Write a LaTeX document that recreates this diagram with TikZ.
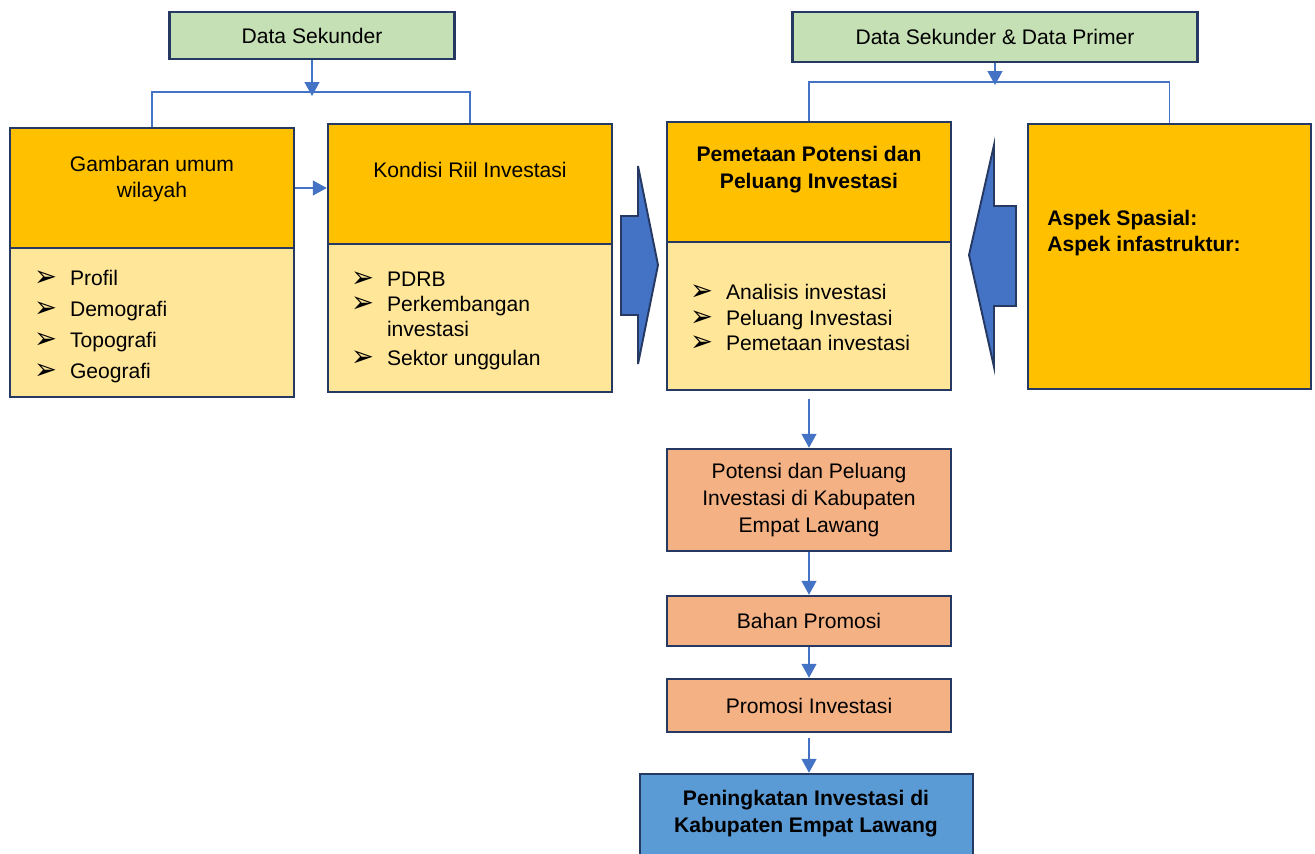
\documentclass[tikz,border=0pt]{standalone}
\usepackage{fontspec}
\setmainfont{Liberation Sans}
\newfontfamily\dejavu{DejaVu Sans}
\usetikzlibrary{arrows.meta}
\definecolor{boxnavy}{RGB}{38,57,98}
\definecolor{linkblue}{RGB}{68,114,196}
\definecolor{fillgreen}{RGB}{197,224,180}
\definecolor{fillorange}{RGB}{255,192,0}
\definecolor{fillcream}{RGB}{255,230,153}
\definecolor{fillsalmon}{RGB}{244,177,131}
\definecolor{fillsky}{RGB}{91,155,213}
\newcommand{\lbul}{\makebox[20.3pt][l]{\smash{\raisebox{-0.1ex}{\scalebox{1.3}[1.4]{\dejavu ➢}}}}}
\tikzset{
  fbox/.style ={rectangle, draw=boxnavy, line width=1.4pt, inner sep=0pt,
                font=\fontsize{12}{15.6}\selectfont, align=center},
  fsrc/.style ={fbox, fill=fillgreen},
  fhead/.style={fbox, fill=fillorange, minimum width=56.8mm, minimum height=24mm},
  fbody/.style={fbox, fill=fillcream, minimum width=56.8mm, minimum height=29.7mm},
  fstep/.style={fbox, fill=fillsalmon, minimum width=56.8mm},
  fgoal/.style={fbox, fill=fillsky, minimum width=66.6mm},
  ftitle/.style={align=center, inner sep=0pt, font=\fontsize{12}{15.3}\selectfont},
  fbold/.style ={ftitle, font=\fontsize{12}{15.3}\selectfont\bfseries},
  flist/.style ={align=left, anchor=west, inner sep=0pt, font=\fontsize{12}{14.4}\selectfont},
  fline/.style ={line width=0.8pt, linkblue},
  fdir/.style  ={fline, -{Triangle[length=2.8mm, width=3mm]}},
  fblock/.style={draw=boxnavy, line width=1.1pt, fill=linkblue, line join=miter},
}
\begin{document}
\begin{tikzpicture}
  \useasboundingbox (0,0) rectangle (26.3,-17.06);
  \clip (0,0) rectangle (26.3,-17.06);
  \node[fsrc, minimum width=57mm, minimum height=9.4mm] (ds1) at (6.24,-0.71) {Data Sekunder};
  \node[fsrc, minimum width=81mm, minimum height=10mm] (ds2) at (19.9,-0.74) {Data Sekunder \& Data Primer};
  \node[fhead] (gambTop) at (3.04,-3.76) {};
  \node[fbody] (gambBot) at (3.04,-6.45) {};
  \node[fhead] (kondTop) at (9.40,-3.68) {};
  \node[fbody] (kondBot) at (9.40,-6.36) {};
  \node[fhead] (pemTop) at (16.18,-3.64) {};
  \node[fbody] (pemBot) at (16.18,-6.32) {};
  \node[fhead, minimum width=56.6mm, minimum height=53mm] (asp) at (23.39,-5.13) {};
  \node[ftitle] (gambTxt) at (3.04,-3.58) {Gambaran umum\\wilayah};
  \node[ftitle] (kondTxt) at (9.40,-3.40) {Kondisi Riil Investasi};
  \node[fbold] (pemTxt) at (16.18,-3.40) {Pemetaan Potensi dan\\Peluang Investasi};
  \node[flist, font=\fontsize{12}{14.7}\selectfont\bfseries] (aspTxt) at (20.94,-4.66) {Aspek Spasial:\\Aspek infastruktur:};
  \node[flist] (gambLst) at (0.68,-6.53) {\lbul Profil\\[3.2pt]\lbul Demografi\\[3.2pt]\lbul Topografi\\[3.2pt]\lbul Geografi};
  \node[flist] (kondLst) at (7.02,-6.41) {\lbul PDRB\\\lbul Perkembangan\\\hspace*{20.3pt}investasi\\[1.7pt]\lbul Sektor unggulan};
  \node[flist] (pemLst) at (13.80,-6.35) {\lbul Analisis investasi\\\lbul Peluang Investasi\\\lbul Pemetaan investasi};
  \node[fstep, minimum height=20.4mm] (pot) at (16.18,-10.0) {Potensi dan Peluang\\Investasi di Kabupaten\\Empat Lawang};
  \node[fstep, minimum height=10mm] (bahan) at (16.18,-12.42) {Bahan Promosi};
  \node[fstep, minimum height=10.6mm] (promo) at (16.18,-14.11) {Promosi Investasi};
  \node[fgoal, minimum height=21.2mm] (goal) at (16.13,-16.54) {};
  \node[fbold] (goalTxt) at (16.12,-16.27) {Peningkatan Investasi di\\Kabupaten Empat Lawang};
  \coordinate (busL) at (6.24,-1.84);
  \coordinate (tipL) at (6.24,-1.92);
  \coordinate (busR) at (19.9,-1.64);
  \coordinate (tipR) at (19.9,-1.70);
  \draw[fline] (gambTop.north) |- (busL) -| (kondTop.north);
  \draw[fline] (pemTop.north) |- (busR) -| (asp.north);
  \draw[fdir] (ds1.south) -- (tipL);
  \draw[fdir] (ds2.south) -- (tipR);
  \draw[fdir] (gambTop.east) -- (gambTop.east -| kondTop.west);
  \draw[fdir, shorten <=1.6mm] (pemBot.south) -- (pot.north);
  \draw[fdir] (pot) -- (bahan);
  \draw[fdir] (bahan) -- (promo);
  \draw[fdir, shorten <=1mm] (promo.south) -- (promo.south |- goal.north);
  \draw[fblock] (12.42,-4.32) -- (12.76,-4.32) -- (12.76,-3.32) -- (13.16,-5.30)
    -- (12.76,-7.28) -- (12.76,-6.30) -- (12.42,-6.30) -- cycle;
  \draw[fblock] (20.32,-4.12) -- (19.88,-4.12) -- (19.88,-2.90) -- (19.38,-5.10)
    -- (19.88,-7.34) -- (19.88,-6.12) -- (20.32,-6.12) -- cycle;
\end{tikzpicture}
\end{document}
